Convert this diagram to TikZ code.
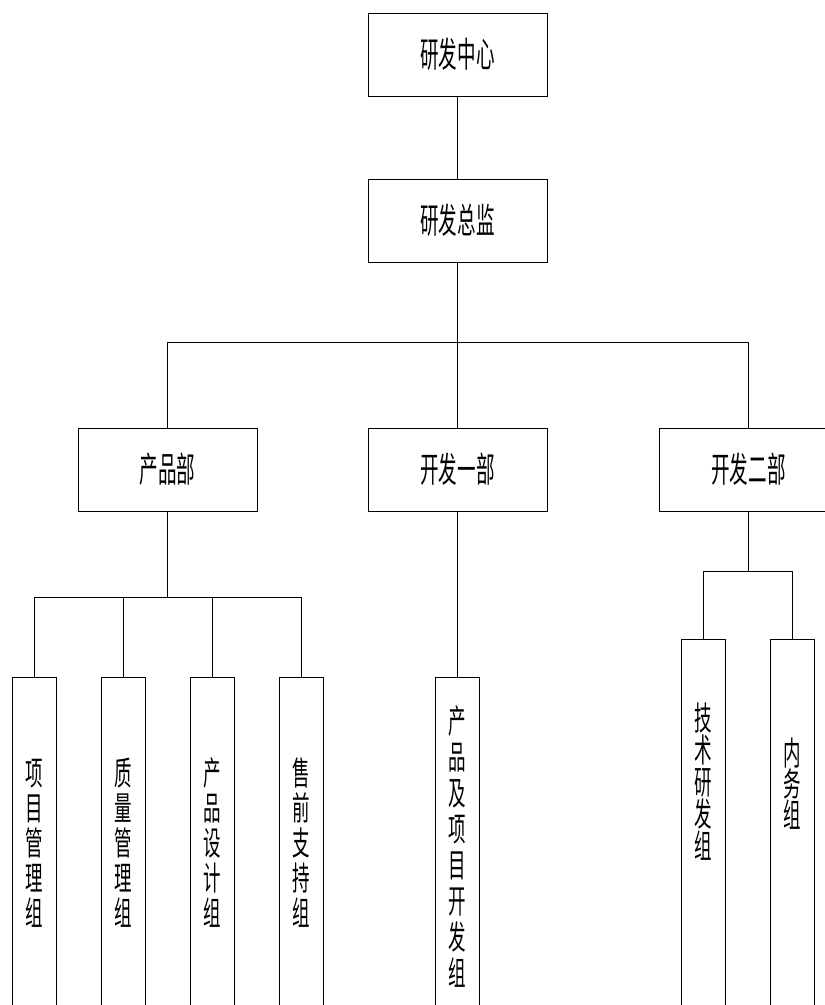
\documentclass[tikz,border=0pt]{standalone}
\usepackage{fontspec}
\newfontfamily\cjk[FakeStretch=0.53]{Noto Sans CJK SC}

\tikzset{
	unit/.style={draw, line width=0.7pt, minimum width=179pt, minimum height=83pt, inner sep=0pt, font=\cjk\fontsize{35}{35}\selectfont},
	group/.style={draw, line width=0.7pt, minimum width=44pt, inner sep=0pt},
	grouplabel/.style={align=center, inner sep=0pt, font=\cjk\fontsize{33}{#1}\selectfont},
	link/.style={line width=0.7pt}
}

%tall group box running off the bottom, text placed on its own
\newcommand{\groupBox}[6]{
	\node[group, minimum height={1030-#3}, anchor=north] (#1) at (#2,#3) {};
	\node[grouplabel=#5] (#1-text) at (#2,#4) {#6};
}

\begin{document}
\begin{tikzpicture}[x=1pt,y=-1pt]
	\clip (0,0) rectangle (825,1005);

	%top levels
	\node[unit] (center) at (457.5,54.5) {研发中心};
	\node[unit] (director) at (457.5,220.5) {研发总监};

	%departments
	\node[unit] (prod) at (167.5,469.5) {产品部};
	\node[unit] (dev1) at (457.5,469.5) {开发一部};
	\node[unit] (dev2) at (748.5,469.5) {开发二部};

	%groups
	\groupBox{g1}{34}{677}{843}{35}{项\\目\\管\\理\\组}
	\groupBox{g2}{123}{677}{843}{35}{质\\量\\管\\理\\组}
	\groupBox{g3}{212.5}{677}{843}{35}{产\\品\\设\\计\\组}
	\groupBox{g4}{301.5}{677}{843}{35}{售\\前\\支\\持\\组}
	\groupBox{g5}{457.5}{677}{847}{36}{产\\品\\及\\项\\目\\开\\发\\组}
	\groupBox{g6}{703}{639}{781.5}{32}{技\\术\\研\\发\\组}
	\groupBox{g7}{792.5}{639}{783.5}{29}{内\\务\\组}

	%links
	\draw[link] (center.south) -- (director.north);
	\draw[link] (director.south) -- (dev1.north);
	\foreach \d in {prod,dev2}{
		\draw[link] (director.south) -- ++(0,80) -| (\d.north);
	}
	\foreach \g in {g1,g2,g3,g4}{
		\draw[link] (prod.south) -- ++(0,86) -| (\g.north);
	}
	\draw[link] (dev1.south) -- (g5.north);
	\foreach \g in {g6,g7}{
		\draw[link] (dev2.south) -- ++(0,60) -| (\g.north);
	}
\end{tikzpicture}
\end{document}
